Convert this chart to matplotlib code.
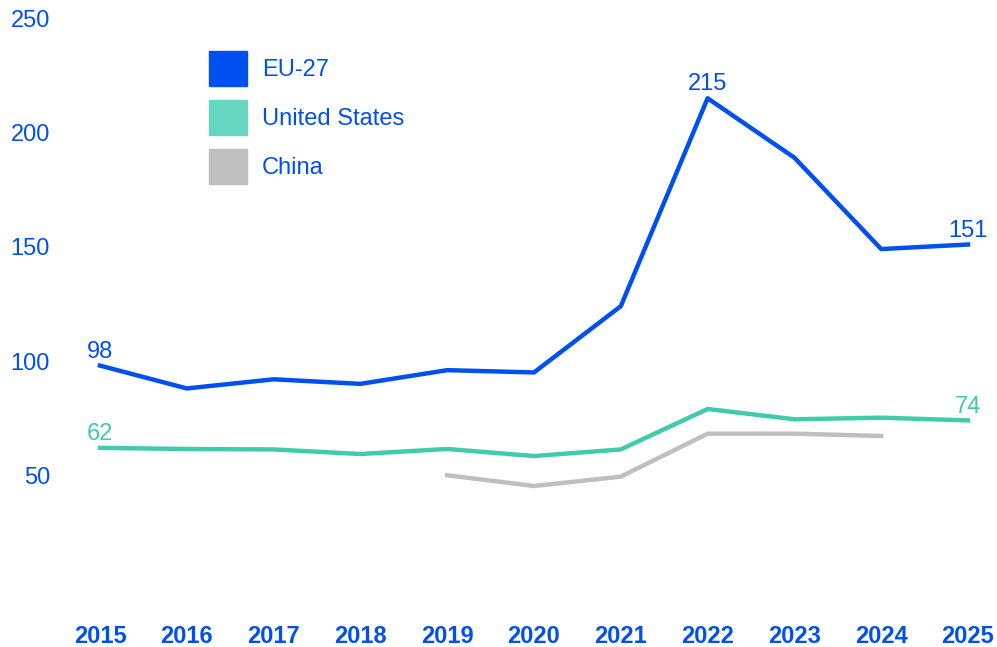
import matplotlib
matplotlib.use("Agg")
import matplotlib.pyplot as plt
from matplotlib.patches import Patch

years = [2015, 2016, 2017, 2018, 2019, 2020, 2021, 2022, 2023, 2024, 2025]
eu = [98, 88, 92, 90, 96, 95, 124, 215, 189, 149, 151]
us = [62, 61.5, 61.3, 59.3, 61.5, 58.4, 61.3, 79, 74.5, 75.2, 74]
china_years = [2019, 2020, 2021, 2022, 2023, 2024]
china = [50, 45.3, 49.4, 68.2, 68.2, 67.2]
yticks = [50, 100, 150, 200, 250]

BLUE = "#0050F0"
TEAL = "#40CCAA"
TEAL_LEG = "#66D6BE"
GREY = "#BFBFBF"

plt.rcParams["font.family"] = ["Liberation Sans", "DejaVu Sans"]

fig = plt.figure(figsize=(9.97, 6.47), dpi=100)
ax = fig.add_axes([100/997, 1-589.5/647, (968-100)/997, (589.5-18.3)/647])

ax.plot(years, eu, color=BLUE, lw=3.2, clip_on=False)
ax.plot(years, us, color=TEAL, lw=3.2, clip_on=False)
ax.plot(china_years, china, color=GREY, lw=3.2, clip_on=False)

ax.set_xlim(2015, 2025)
ax.set_ylim(0, 250)
ax.set_yticks(yticks)
ax.set_xticks(years)
ax.tick_params(axis="both", length=0, labelsize=17, colors=BLUE)
ax.tick_params(axis="y", pad=36)
ax.tick_params(axis="x", pad=25.5)
for lab in ax.get_xticklabels():
    lab.set_fontweight("bold")
for s in ax.spines.values():
    s.set_visible(False)

def lab(x, y, txt, color):
    ax.annotate(txt, (x, y), xytext=(0, 2), textcoords="offset points",
                ha="center", va="bottom", fontsize=17, color=color)

lab(years[0], eu[0], "98", BLUE)
lab(years[7], eu[7], "215", BLUE)
lab(years[-1], eu[-1], "151", BLUE)
lab(years[0], us[0], "62", TEAL)
lab(years[-1], us[-1], "74", TEAL)

handles = [Patch(color=BLUE, label="EU-27"),
           Patch(color=TEAL_LEG, label="United States"),
           Patch(color=GREY, label="China")]
leg = fig.legend(handles=handles, loc="upper left",
                 bbox_to_anchor=(209/997, 1-51/647), bbox_transform=fig.transFigure,
                 frameon=False, fontsize=17, handlelength=1.6, handleheight=1.9,
                 labelspacing=0.6, handletextpad=0.64, borderpad=0, borderaxespad=0)
for t in leg.get_texts():
    t.set_color(BLUE)

fig.savefig("out.png", dpi=100)
